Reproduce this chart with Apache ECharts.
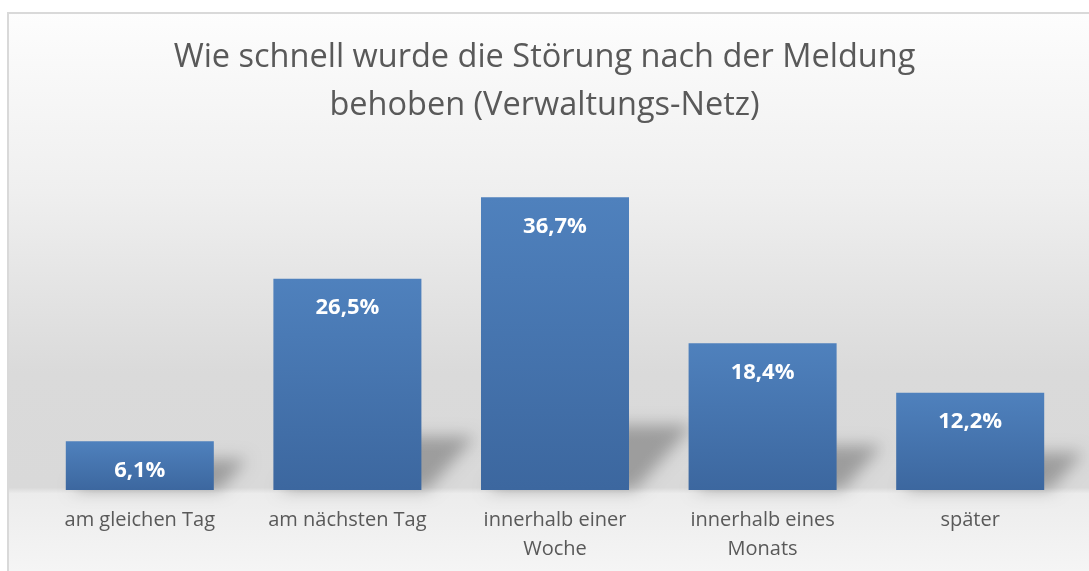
<!DOCTYPE html>
<html>
<head>
<meta charset="utf-8">
<script src="https://cdn.jsdelivr.net/npm/echarts@6/dist/echarts.min.js"></script>
<style>
  html, body { margin: 0; padding: 0; background: #ffffff; }
  #chart { width: 1089px; height: 571px; }
</style>
</head>
<body>
<div id="chart"></div>
<script>
// chart data
var titleText = 'Wie schnell wurde die Störung nach der Meldung\nbehoben (Verwaltungs-Netz)';
var categories = ['am gleichen Tag', 'am nächsten Tag', 'innerhalb einer\nWoche', 'innerhalb eines\nMonats', 'später'];
var values = [6.1, 26.5, 36.7, 18.4, 12.2];

var chart = echarts.init(document.getElementById('chart'));

// soft floor shadow behind each bar (skewed to the right)
// the shape itself is drawn off screen, only its blurred shadow lands here
var OFF = 3000;
function renderShadow(params, api) {
    var idx = api.value(0);
    var v = api.value(1);
    var base = api.coord([idx, 0]);
    var top = api.coord([idx, v]);
    var bw = api.size([1, 0])[0] * 0.713;
    var barH = base[1] - top[1];
    var h = Math.min(barH, 30 + barH * 0.14);
    var x0 = base[0] - bw / 2 - OFF, x1 = base[0] + bw / 2 - OFF;
    var y0 = base[1];
    var dx = h * 0.9;
    return {
        type: 'polygon',
        shape: {
            points: [[x0 + 6, y0], [x1 + 6, y0], [x1 + dx, y0 - h + 6], [x0 + dx, y0 - h + 6]]
        },
        style: {
            fill: '#000',
            shadowBlur: 16,
            shadowOffsetX: OFF,
            shadowColor: 'rgba(0,0,0,0.28)'
        }
    };
}

var option = {
    animation: false,
    graphic: [{
        type: 'rect',
        z: -10,
        shape: { x: 8, y: 13, width: 1100, height: 600 },
        style: {
            fill: new echarts.graphic.LinearGradient(0, 0, 0, 1, [
                { offset: 0, color: '#fdfdfd' },
                { offset: 0.3, color: '#efefef' },
                { offset: 0.6, color: '#dadada' },
                { offset: 0.79, color: '#d9d9d9' },
                { offset: 0.8, color: '#ececec' },
                { offset: 1, color: '#fafafa' }
            ]),
            stroke: '#d9d9d9',
            lineWidth: 2
        }
    }],
    title: {
        text: titleText,
        left: 'center',
        top: 29,
        textStyle: {
            fontFamily: 'Open Sans',
            fontWeight: 'normal',
            fontSize: 32.5,
            lineHeight: 48,
            color: '#595959'
        }
    },
    grid: {
        left: 36,
        right: 15,
        top: 171,
        bottom: 81
    },
    xAxis: {
        type: 'category',
        data: categories,
        axisLine: { show: false },
        axisTick: { show: false },
        axisLabel: {
            fontFamily: 'Open Sans',
            fontSize: 20,
            lineHeight: 29,
            color: '#595959',
            margin: 16,
            interval: 0
        }
    },
    yAxis: {
        type: 'value',
        min: 0,
        max: 40,
        show: false,
        splitLine: { show: false }
    },
    series: [
        {
            type: 'custom',
            renderItem: renderShadow,
            data: values.map(function (v, i) { return [i, v]; }),
            z: 1,
            silent: true
        },
        {
            type: 'bar',
            data: values,
            barWidth: '71.3%',
            z: 2,
            itemStyle: {
                color: new echarts.graphic.LinearGradient(0, 0, 0, 1, [
                    { offset: 0, color: '#4f81bd' },
                    { offset: 1, color: '#3c679f' }
                ])
            },
            label: {
                show: true,
                position: 'insideTop',
                distance: 18,
                formatter: function (p) {
                    return String(p.value.toFixed(1)).replace('.', ',') + '%';
                },
                fontFamily: 'Open Sans',
                fontWeight: 'bold',
                fontSize: 22,
                color: '#ffffff'
            }
        }
    ]
};

chart.setOption(option);
</script>
</body>
</html>
